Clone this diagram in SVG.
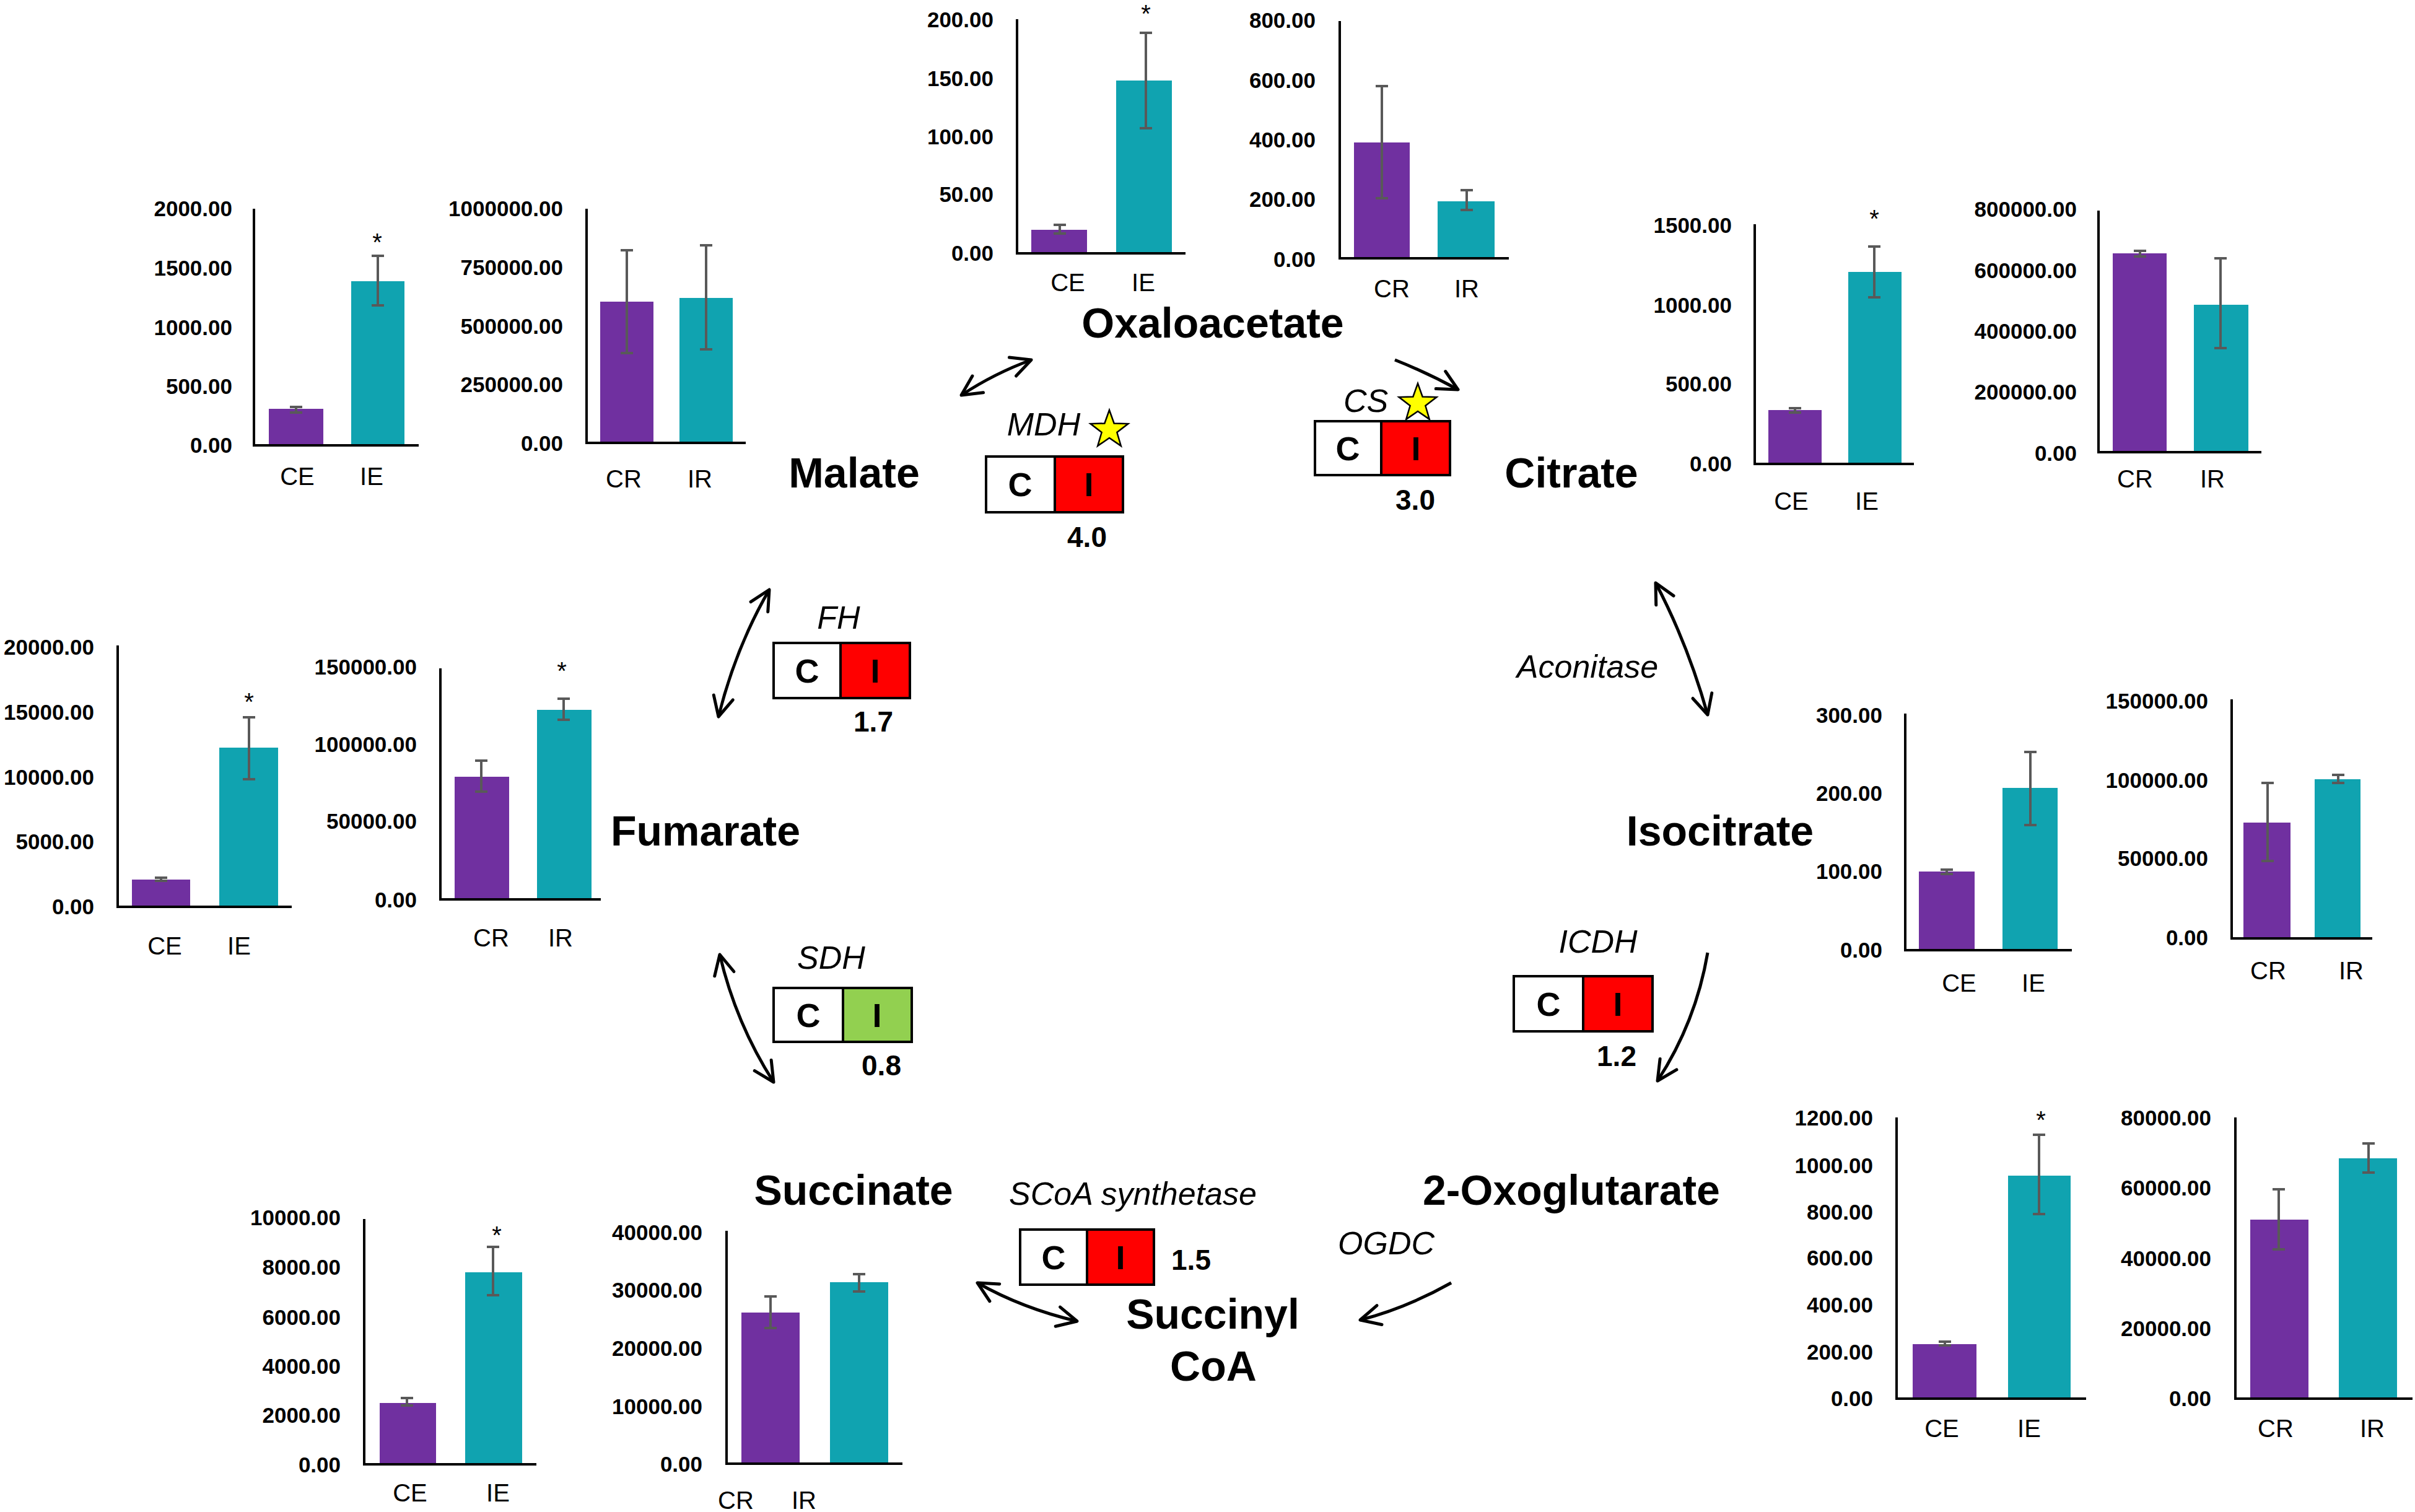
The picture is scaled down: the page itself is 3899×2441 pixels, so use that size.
<svg xmlns="http://www.w3.org/2000/svg" width="3899" height="2441" viewBox="0 0 3899 2441">
<style>
.axis{fill:none;stroke:#000;stroke-width:4}
.bc{fill:#7030A0}
.bi{fill:#10A3B0}
.err{fill:none;stroke:#595959;stroke-width:4}
text{font-family:"Liberation Sans",Arial,sans-serif;fill:#000}
.tick{font-size:35px;font-weight:bold;text-anchor:end}
.cat{font-size:40px;text-anchor:middle}
.sig{font-size:40px;text-anchor:middle}
.met{font-size:68px;font-weight:bold;text-anchor:middle}
.enz{font-size:52px;font-style:italic;text-anchor:middle}
.bxc{fill:#fff;stroke:#000;stroke-width:4}
.bxup{fill:#FF0000;stroke:#000;stroke-width:4}
.bxdn{fill:#92D050;stroke:#000;stroke-width:4}
.bxt{font-size:54px;font-weight:bold;text-anchor:middle}
.fold{font-size:46px;font-weight:bold;text-anchor:middle}
.arrow{fill:none;stroke:#000;stroke-width:5}
.star{fill:#FFFF00;stroke:#000;stroke-width:2.5}
</style>
<defs>
<marker id="ah" viewBox="0 0 40 40" refX="37" refY="20" markerWidth="40" markerHeight="40" markerUnits="userSpaceOnUse" orient="auto-start-reverse">
<path d="M5,4 L37,20 L5,36" fill="none" stroke="#000" stroke-width="5" stroke-linecap="round" stroke-linejoin="round"/>
</marker>
<polygon id="star" points="0,-32 7.64,-10.52 30.43,-9.89 12.36,4.02 18.81,25.89 0,13 -18.81,25.89 -12.36,4.02 -30.43,-9.89 -7.64,-10.52"/>
</defs>

<!-- Connectors -->
<g id="connectors">
<path class="arrow" d="M1552,638 Q1605,603 1665,581" marker-start="url(#ah)" marker-end="url(#ah)"/>
<path class="arrow" d="M2252,581 Q2305,602 2354,629" marker-end="url(#ah)"/>
<path class="arrow" d="M2673,941 Q2725,1040 2757,1154" marker-start="url(#ah)" marker-end="url(#ah)"/>
<path class="arrow" d="M2757,1538 Q2738,1650 2676,1745" marker-end="url(#ah)"/>
<path class="arrow" d="M2343,2071 Q2270,2112 2196,2131" marker-end="url(#ah)"/>
<path class="arrow" d="M1578,2071 Q1650,2112 1739,2133" marker-start="url(#ah)" marker-end="url(#ah)"/>
<path class="arrow" d="M1162,1541 Q1188,1652 1249,1747" marker-start="url(#ah)" marker-end="url(#ah)"/>
<path class="arrow" d="M1242,952 Q1188,1045 1160,1157" marker-start="url(#ah)" marker-end="url(#ah)"/>
</g>

<!-- Metabolite labels -->
<g id="node-oxaloacetate"><text class="met" x="1958" y="545">Oxaloacetate</text></g>
<g id="node-malate"><text class="met" x="1379" y="787">Malate</text></g>
<g id="node-citrate"><text class="met" x="2537" y="787">Citrate</text></g>
<g id="node-fumarate"><text class="met" x="1139" y="1365">Fumarate</text></g>
<g id="node-isocitrate"><text class="met" x="2777" y="1365">Isocitrate</text></g>
<g id="node-succinate"><text class="met" x="1378" y="1945">Succinate</text></g>
<g id="node-oxoglutarate"><text class="met" x="2537" y="1945">2-Oxoglutarate</text></g>
<g id="node-succinylcoa"><text class="met" x="1958" y="2145">Succinyl</text><text class="met" x="1959" y="2229">CoA</text></g>

<!-- Enzymes -->
<g id="enz-mdh">
<text class="enz" x="1685" y="703">MDH</text>
<use href="#star" class="star" transform="translate(1791,694)"/>
<rect class="bxc" x="1592" y="737" width="111" height="90"/>
<rect class="bxup" x="1703" y="737" width="110" height="90"/>
<text class="bxt" x="1647" y="801">C</text><text class="bxt" x="1758" y="801">I</text>
<text class="fold" x="1755" y="883">4.0</text>
</g>
<g id="enz-cs">
<text class="enz" x="2205" y="665">CS</text>
<use href="#star" class="star" transform="translate(2289,651)"/>
<rect class="bxc" x="2123" y="680" width="107" height="87"/>
<rect class="bxup" x="2230" y="680" width="111" height="87"/>
<text class="bxt" x="2176" y="743">C</text><text class="bxt" x="2286" y="743">I</text>
<text class="fold" x="2285" y="823">3.0</text>
</g>
<g id="enz-aconitase">
<text class="enz" x="2563" y="1094">Aconitase</text>
</g>
<g id="enz-icdh">
<text class="enz" x="2580" y="1538">ICDH</text>
<rect class="bxc" x="2444" y="1576" width="112" height="89"/>
<rect class="bxup" x="2556" y="1576" width="112" height="89"/>
<text class="bxt" x="2500" y="1640">C</text><text class="bxt" x="2612" y="1640">I</text>
<text class="fold" x="2610" y="1721">1.2</text>
</g>
<g id="enz-ogdc">
<text class="enz" x="2238" y="2025">OGDC</text>
</g>
<g id="enz-scoa">
<text class="enz" x="1829" y="1945">SCoA synthetase</text>
<rect class="bxc" x="1647" y="1985" width="108" height="89"/>
<rect class="bxup" x="1755" y="1985" width="108" height="89"/>
<text class="bxt" x="1701" y="2049">C</text><text class="bxt" x="1809" y="2049">I</text>
<text class="fold" x="1923" y="2050">1.5</text>
</g>
<g id="enz-sdh">
<text class="enz" x="1342" y="1564">SDH</text>
<rect class="bxc" x="1249" y="1595" width="112" height="87"/>
<rect class="bxdn" x="1361" y="1595" width="111" height="87"/>
<text class="bxt" x="1305" y="1658">C</text><text class="bxt" x="1416" y="1658">I</text>
<text class="fold" x="1423" y="1736">0.8</text>
</g>
<g id="enz-fh">
<text class="enz" x="1354" y="1015">FH</text>
<rect class="bxc" x="1249" y="1038" width="108" height="89"/>
<rect class="bxup" x="1357" y="1038" width="112" height="89"/>
<text class="bxt" x="1303" y="1102">C</text><text class="bxt" x="1413" y="1102">I</text>
<text class="fold" x="1410" y="1181">1.7</text>
</g>

<!-- Chart A: Malate CE/IE -->
<g id="chart-malate-e">
<rect class="bc" x="434" y="660" width="88" height="59"/>
<rect class="bi" x="567" y="454" width="86" height="265"/>
<path class="err" d="M478,657 V666 M468,657 H488 M468,666 H488"/>
<path class="err" d="M610,413 V493 M600,413 H620 M600,493 H620"/>
<path class="axis" d="M410,337 V719 H676"/>
<text class="tick" x="375" y="349">2000.00</text>
<text class="tick" x="375" y="445">1500.00</text>
<text class="tick" x="375" y="541">1000.00</text>
<text class="tick" x="375" y="636">500.00</text>
<text class="tick" x="375" y="731">0.00</text>
<text class="sig" x="609" y="405">*</text>
<text class="cat" x="480" y="783">CE</text>
<text class="cat" x="600" y="783">IE</text>
</g>

<!-- Chart B: Malate CR/IR -->
<g id="chart-malate-r">
<rect class="bc" x="969" y="487" width="86" height="228"/>
<rect class="bi" x="1097" y="481" width="86" height="234"/>
<path class="err" d="M1012,404 V570 M1002,404 H1022 M1002,570 H1022"/>
<path class="err" d="M1140,396 V564 M1130,396 H1150 M1130,564 H1150"/>
<path class="axis" d="M947,337 V715 H1204"/>
<text class="tick" x="909" y="349">1000000.00</text>
<text class="tick" x="909" y="444">750000.00</text>
<text class="tick" x="909" y="539">500000.00</text>
<text class="tick" x="909" y="633">250000.00</text>
<text class="tick" x="909" y="728">0.00</text>
<text class="cat" x="1007" y="787">CR</text>
<text class="cat" x="1130" y="787">IR</text>
</g>

<!-- Chart C: Oxaloacetate CE/IE -->
<g id="chart-oxaloacetate-e">
<rect class="bc" x="1665" y="371" width="90" height="38"/>
<rect class="bi" x="1802" y="130" width="90" height="279"/>
<path class="err" d="M1711,363 V377 M1701,363 H1721 M1701,377 H1721"/>
<path class="err" d="M1850,53 V207 M1840,53 H1860 M1840,207 H1860"/>
<path class="axis" d="M1642,31 V409 H1914"/>
<text class="tick" x="1604" y="44">200.00</text>
<text class="tick" x="1604" y="139">150.00</text>
<text class="tick" x="1604" y="233">100.00</text>
<text class="tick" x="1604" y="326">50.00</text>
<text class="tick" x="1604" y="421">0.00</text>
<text class="sig" x="1850" y="36">*</text>
<text class="cat" x="1724" y="470">CE</text>
<text class="cat" x="1846" y="470">IE</text>
</g>

<!-- Chart D: Oxaloacetate CR/IR -->
<g id="chart-oxaloacetate-r">
<rect class="bc" x="2186" y="230" width="90" height="187"/>
<rect class="bi" x="2321" y="325" width="92" height="92"/>
<path class="err" d="M2231,139 V320 M2221,139 H2241 M2221,320 H2241"/>
<path class="err" d="M2368,307 V339 M2358,307 H2378 M2358,339 H2378"/>
<path class="axis" d="M2163,34 V417 H2436"/>
<text class="tick" x="2124" y="45">800.00</text>
<text class="tick" x="2124" y="142">600.00</text>
<text class="tick" x="2124" y="238">400.00</text>
<text class="tick" x="2124" y="334">200.00</text>
<text class="tick" x="2124" y="431">0.00</text>
<text class="cat" x="2247" y="480">CR</text>
<text class="cat" x="2368" y="480">IR</text>
</g>

<!-- Chart E: Citrate CE/IE -->
<g id="chart-citrate-e">
<rect class="bc" x="2855" y="662" width="86" height="87"/>
<rect class="bi" x="2984" y="439" width="86" height="310"/>
<path class="err" d="M2898,659 V666 M2888,659 H2908 M2888,666 H2908"/>
<path class="err" d="M3026,398 V480 M3016,398 H3036 M3016,480 H3036"/>
<path class="axis" d="M2833,362 V749 H3090"/>
<text class="tick" x="2796" y="376">1500.00</text>
<text class="tick" x="2796" y="505">1000.00</text>
<text class="tick" x="2796" y="632">500.00</text>
<text class="tick" x="2796" y="761">0.00</text>
<text class="sig" x="3026" y="367">*</text>
<text class="cat" x="2892" y="823">CE</text>
<text class="cat" x="3014" y="823">IE</text>
</g>

<!-- Chart F: Citrate CR/IR -->
<g id="chart-citrate-r">
<rect class="bc" x="3411" y="409" width="87" height="321"/>
<rect class="bi" x="3542" y="492" width="88" height="238"/>
<path class="err" d="M3455,405 V414 M3445,405 H3465 M3445,414 H3465"/>
<path class="err" d="M3585,417 V562 M3575,417 H3595 M3575,562 H3595"/>
<path class="axis" d="M3388,340 V730 H3651"/>
<text class="tick" x="3353" y="350">800000.00</text>
<text class="tick" x="3353" y="449">600000.00</text>
<text class="tick" x="3353" y="547">400000.00</text>
<text class="tick" x="3353" y="645">200000.00</text>
<text class="tick" x="3353" y="744">0.00</text>
<text class="cat" x="3447" y="787">CR</text>
<text class="cat" x="3572" y="787">IR</text>
</g>

<!-- Chart G: Isocitrate CE/IE -->
<g id="chart-isocitrate-e">
<rect class="bc" x="3098" y="1407" width="90" height="127"/>
<rect class="bi" x="3233" y="1272" width="89" height="262"/>
<path class="err" d="M3143,1404 V1411 M3133,1404 H3153 M3133,1411 H3153"/>
<path class="err" d="M3278,1214 V1332 M3268,1214 H3288 M3268,1332 H3288"/>
<path class="axis" d="M3076,1152 V1534 H3345"/>
<text class="tick" x="3039" y="1167">300.00</text>
<text class="tick" x="3039" y="1293">200.00</text>
<text class="tick" x="3039" y="1419">100.00</text>
<text class="tick" x="3039" y="1546">0.00</text>
<text class="cat" x="3163" y="1601">CE</text>
<text class="cat" x="3283" y="1601">IE</text>
</g>

<!-- Chart H: Isocitrate CR/IR -->
<g id="chart-isocitrate-r">
<rect class="bc" x="3622" y="1328" width="76" height="187"/>
<rect class="bi" x="3737" y="1258" width="74" height="257"/>
<path class="err" d="M3661,1264 V1390 M3651,1264 H3671 M3651,1390 H3671"/>
<path class="err" d="M3775,1251 V1264 M3765,1251 H3785 M3765,1264 H3785"/>
<path class="axis" d="M3603,1129 V1515 H3830"/>
<text class="tick" x="3565" y="1144">150000.00</text>
<text class="tick" x="3565" y="1272">100000.00</text>
<text class="tick" x="3565" y="1398">50000.00</text>
<text class="tick" x="3565" y="1526">0.00</text>
<text class="cat" x="3662" y="1581">CR</text>
<text class="cat" x="3796" y="1581">IR</text>
</g>

<!-- Chart I: Fumarate CE/IE -->
<g id="chart-fumarate-e">
<rect class="bc" x="213" y="1420" width="94" height="44"/>
<rect class="bi" x="354" y="1207" width="95" height="257"/>
<path class="err" d="M260,1417 V1422 M250,1417 H270 M250,1422 H270"/>
<path class="err" d="M402,1158 V1258 M392,1158 H412 M392,1258 H412"/>
<path class="axis" d="M190,1042 V1464 H471"/>
<text class="tick" x="152" y="1057">20000.00</text>
<text class="tick" x="152" y="1162">15000.00</text>
<text class="tick" x="152" y="1267">10000.00</text>
<text class="tick" x="152" y="1371">5000.00</text>
<text class="tick" x="152" y="1476">0.00</text>
<text class="sig" x="402" y="1147">*</text>
<text class="cat" x="266" y="1541">CE</text>
<text class="cat" x="386" y="1541">IE</text>
</g>

<!-- Chart J: Fumarate CR/IR -->
<g id="chart-fumarate-r">
<rect class="bc" x="734" y="1254" width="88" height="198"/>
<rect class="bi" x="867" y="1146" width="88" height="306"/>
<path class="err" d="M777,1228 V1278 M767,1228 H787 M767,1278 H787"/>
<path class="err" d="M910,1128 V1162 M900,1128 H920 M900,1162 H920"/>
<path class="axis" d="M711,1079 V1452 H970"/>
<text class="tick" x="673" y="1089">150000.00</text>
<text class="tick" x="673" y="1214">100000.00</text>
<text class="tick" x="673" y="1338">50000.00</text>
<text class="tick" x="673" y="1465">0.00</text>
<text class="sig" x="907" y="1097">*</text>
<text class="cat" x="793" y="1528">CR</text>
<text class="cat" x="905" y="1528">IR</text>
</g>

<!-- Chart K: Succinate CE/IE -->
<g id="chart-succinate-e">
<rect class="bc" x="613" y="2265" width="91" height="99"/>
<rect class="bi" x="751" y="2054" width="92" height="310"/>
<path class="err" d="M657,2257 V2269 M647,2257 H667 M647,2269 H667"/>
<path class="err" d="M796,2013 V2091 M786,2013 H806 M786,2091 H806"/>
<path class="axis" d="M588,1968 V2364 H866"/>
<text class="tick" x="550" y="1978">10000.00</text>
<text class="tick" x="550" y="2058">8000.00</text>
<text class="tick" x="550" y="2139">6000.00</text>
<text class="tick" x="550" y="2218">4000.00</text>
<text class="tick" x="550" y="2297">2000.00</text>
<text class="tick" x="550" y="2377">0.00</text>
<text class="sig" x="802" y="2008">*</text>
<text class="cat" x="662" y="2424">CE</text>
<text class="cat" x="804" y="2424">IE</text>
</g>

<!-- Chart L: Succinate CR/IR -->
<g id="chart-succinate-r">
<rect class="bc" x="1197" y="2119" width="94" height="244"/>
<rect class="bi" x="1340" y="2070" width="94" height="293"/>
<path class="err" d="M1244,2093 V2144 M1234,2093 H1254 M1234,2144 H1254"/>
<path class="err" d="M1387,2057 V2085 M1377,2057 H1397 M1377,2085 H1397"/>
<path class="axis" d="M1173,1987 V2363 H1457"/>
<text class="tick" x="1134" y="2002">40000.00</text>
<text class="tick" x="1134" y="2095">30000.00</text>
<text class="tick" x="1134" y="2189">20000.00</text>
<text class="tick" x="1134" y="2283">10000.00</text>
<text class="tick" x="1134" y="2376">0.00</text>
<text class="cat" x="1188" y="2436">CR</text>
<text class="cat" x="1298" y="2436">IR</text>
</g>

<!-- Chart M: 2-Oxoglutarate CE/IE -->
<g id="chart-oxoglutarate-e">
<rect class="bc" x="3088" y="2170" width="103" height="88"/>
<rect class="bi" x="3242" y="1898" width="101" height="360"/>
<path class="err" d="M3140,2166 V2172 M3130,2166 H3150 M3130,2172 H3150"/>
<path class="err" d="M3292,1832 V1960 M3282,1832 H3302 M3282,1960 H3302"/>
<path class="axis" d="M3062,1804 V2258 H3368"/>
<text class="tick" x="3024" y="1817">1200.00</text>
<text class="tick" x="3024" y="1894">1000.00</text>
<text class="tick" x="3024" y="1969">800.00</text>
<text class="tick" x="3024" y="2043">600.00</text>
<text class="tick" x="3024" y="2119">400.00</text>
<text class="tick" x="3024" y="2195">200.00</text>
<text class="tick" x="3024" y="2270">0.00</text>
<text class="sig" x="3295" y="1822">*</text>
<text class="cat" x="3135" y="2320">CE</text>
<text class="cat" x="3276" y="2320">IE</text>
</g>

<!-- Chart N: 2-Oxoglutarate CR/IR -->
<g id="chart-oxoglutarate-r">
<rect class="bc" x="3633" y="1969" width="94" height="289"/>
<rect class="bi" x="3776" y="1870" width="94" height="388"/>
<path class="err" d="M3679,1920 V2017 M3669,1920 H3689 M3669,2017 H3689"/>
<path class="err" d="M3824,1846 V1893 M3814,1846 H3834 M3814,1893 H3834"/>
<path class="axis" d="M3609,1804 V2258 H3895"/>
<text class="tick" x="3570" y="1817">80000.00</text>
<text class="tick" x="3570" y="1930">60000.00</text>
<text class="tick" x="3570" y="2044">40000.00</text>
<text class="tick" x="3570" y="2157">20000.00</text>
<text class="tick" x="3570" y="2270">0.00</text>
<text class="cat" x="3674" y="2320">CR</text>
<text class="cat" x="3830" y="2320">IR</text>
</g>
</svg>
